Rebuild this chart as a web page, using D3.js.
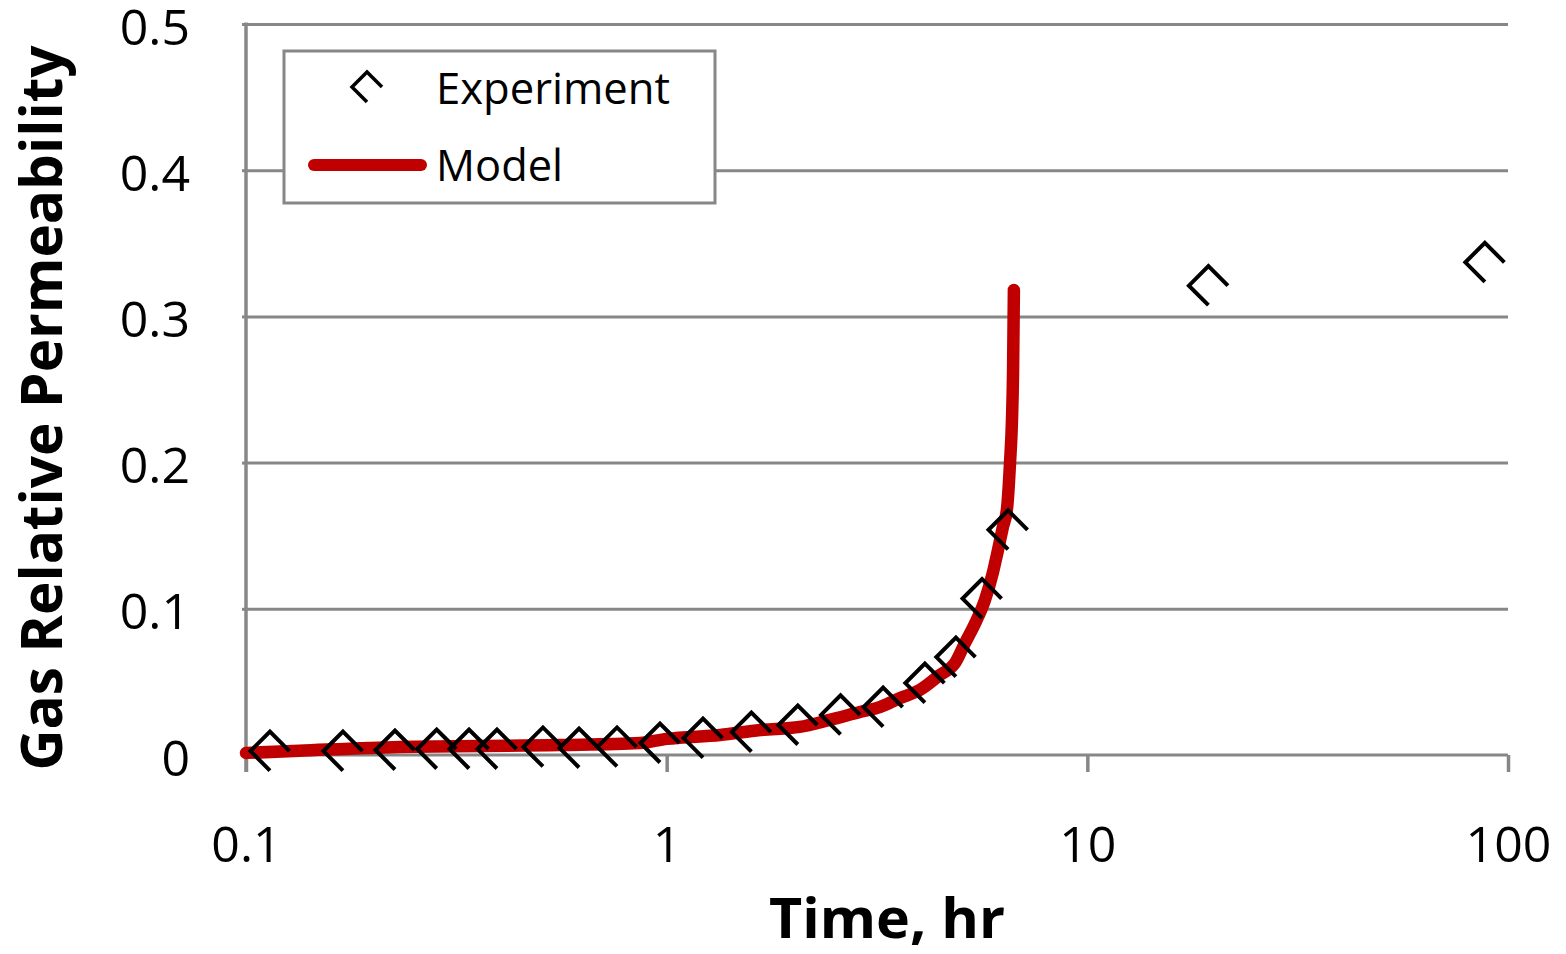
<!DOCTYPE html>
<html>
<head>
<meta charset="utf-8">
<script src="https://cdn.jsdelivr.net/npm/d3@7"></script>
<style>
  html, body { margin: 0; padding: 0; background: #fff; }
  svg { display: block; }
</style>
</head>
<body>
<svg id="chart" width="1566" height="954"></svg>
<script>
// ---- data ----
const xTickValues = [0.1, 1, 10, 100];
const xTickLabels = ["0.1", "1", "10", "100"];
const yTickValues = [0, 0.1, 0.2, 0.3, 0.4, 0.5];
const yTickLabels = ["0", "0.1", "0.2", "0.3", "0.4", "0.5"];

const expTime = [0.114, 0.170, 0.226, 0.284, 0.339, 0.395, 0.508, 0.619, 0.762, 0.964,
                 1.22, 1.59, 2.05, 2.59, 3.27, 4.11, 4.87, 5.62, 6.48, 19.4, 88.1];
const expKrg  = [0.0027, 0.0027, 0.0034, 0.0041, 0.0041, 0.0041, 0.0055, 0.0048, 0.0055, 0.0082,
                 0.0116, 0.0157, 0.0205, 0.0274, 0.0328, 0.0492, 0.067, 0.107, 0.154, 0.321, 0.337];

const modelTime = [0.1, 0.134, 0.232, 0.558, 0.864, 1.0, 1.34, 1.67, 2.07, 2.44, 2.88, 3.21, 3.59,
                   4.00, 4.46, 4.85, 5.12, 5.41, 5.71, 5.96, 6.13, 6.30, 6.44, 6.51, 6.55, 6.62, 6.66, 6.69];
const modelKrg  = [0.0014, 0.0029, 0.0055, 0.0068, 0.0082, 0.011, 0.0137, 0.0171, 0.0192, 0.024, 0.0294,
                   0.0328, 0.039, 0.0445, 0.0547, 0.063, 0.0766, 0.090, 0.106, 0.1245, 0.140, 0.156,
                   0.168, 0.186, 0.200, 0.229, 0.263, 0.318];

const seriesNames = ["Experiment", "Model"];
const xTitle = "Time, hr";
const yTitle = "Gas Relative Permeability";

// ---- layout ----
const svg = d3.select("#chart");
const pLeft = 246, pRight = 1508, pTop = 24, pBottom = 755;
const gray = "#878787";
const red = "#c00000";
const font = "'Open Sans', 'Liberation Sans', sans-serif";

const x = d3.scaleLog().domain([0.1, 100]).range([pLeft, pRight]);
const y = d3.scaleLinear().domain([0, 0.5]).range([pBottom, pTop]);

// gridlines
const grid = svg.append("g").attr("transform", `translate(${pLeft},0)`)
  .call(d3.axisLeft(y).tickValues(yTickValues.filter(v => v > 0)).tickSize(-(pRight - pLeft)).tickFormat(""));
grid.select(".domain").remove();
grid.selectAll("line").attr("stroke", gray).attr("stroke-width", 3);

// x axis
const xAxis = svg.append("g").attr("transform", `translate(0,${pBottom})`)
  .call(d3.axisBottom(x).tickValues(xTickValues).tickSize(17)
        .tickFormat((d, i) => xTickLabels[i]));
xAxis.select(".domain").attr("stroke", gray).attr("stroke-width", 3)
  .attr("d", `M${pLeft},0H${pRight}`);
xAxis.selectAll(".tick line").attr("stroke", gray).attr("stroke-width", 3.5);
xAxis.selectAll(".tick text").attr("y", 107).attr("dy", 0)
  .attr("font-family", font).attr("font-size", 50).attr("fill", "#000");

// y axis
const yAxis = svg.append("g").attr("transform", `translate(${pLeft},0)`)
  .call(d3.axisLeft(y).tickValues(yTickValues).tickSize(4)
        .tickFormat((d, i) => yTickLabels[i]));
yAxis.select(".domain").attr("stroke", gray).attr("stroke-width", 3.5)
  .attr("d", `M0,${pTop - 1.5}V${pBottom + 17}`);
yAxis.selectAll(".tick line").attr("stroke", gray).attr("stroke-width", 3);
yAxis.selectAll(".tick text").attr("x", -56).attr("dy", "0.40em")
  .attr("font-family", font).attr("font-size", 50).attr("fill", "#000");

// model line
const modelData = modelTime.map((t, i) => [t, modelKrg[i]]);
svg.append("path")
  .datum(modelData)
  .attr("fill", "none")
  .attr("stroke", red)
  .attr("stroke-width", 12.5)
  .attr("stroke-linecap", "round")
  .attr("stroke-linejoin", "round")
  .attr("d", d3.line().x(d => x(d[0])).y(d => y(d[1])).curve(d3.curveMonotoneX));

// experiment markers (open diamond glyph with one missing edge)
function markerPath(r) {
  return `M${r},0L0,${-r}L${-r},0L0,${r}`;
}
const expData = expTime.map((t, i) => [t, expKrg[i]]);
svg.append("g").selectAll("path")
  .data(expData)
  .join("path")
  .attr("transform", d => `translate(${x(d[0])},${y(d[1])})`)
  .attr("d", markerPath(19.5))
  .attr("fill", "none")
  .attr("stroke", "#000")
  .attr("stroke-width", 4)
  .attr("stroke-linejoin", "miter");

// legend
const lg = svg.append("g");
lg.append("rect").attr("x", 284).attr("y", 51).attr("width", 431).attr("height", 152)
  .attr("fill", "#fff").attr("stroke", gray).attr("stroke-width", 3);
lg.append("path").attr("transform", "translate(367,87)").attr("d", markerPath(15))
  .attr("fill", "none").attr("stroke", "#000").attr("stroke-width", 3.5);
lg.append("line").attr("x1", 314).attr("x2", 421).attr("y1", 165).attr("y2", 165)
  .attr("stroke", red).attr("stroke-width", 12).attr("stroke-linecap", "round");
lg.append("text").attr("x", 436).attr("y", 104).text(seriesNames[0])
  .attr("font-family", font).attr("font-size", 43).attr("fill", "#000")
  .attr("textLength", 234).attr("lengthAdjust", "spacingAndGlyphs");
lg.append("text").attr("x", 436).attr("y", 181).text(seriesNames[1])
  .attr("font-family", font).attr("font-size", 43).attr("fill", "#000")
  .attr("textLength", 127).attr("lengthAdjust", "spacingAndGlyphs");

// axis titles
svg.append("text").attr("x", 887).attr("y", 938).attr("text-anchor", "middle")
  .attr("font-family", font).attr("font-weight", "bold").attr("font-size", 55)
  .attr("textLength", 236).attr("lengthAdjust", "spacingAndGlyphs")
  .text(xTitle);
svg.append("text").attr("transform", "translate(62,408) rotate(-90)").attr("text-anchor", "middle")
  .attr("font-family", font).attr("font-weight", "bold").attr("font-size", 58)
  .attr("textLength", 725).attr("lengthAdjust", "spacingAndGlyphs")
  .text(yTitle);
</script>
</body>
</html>
